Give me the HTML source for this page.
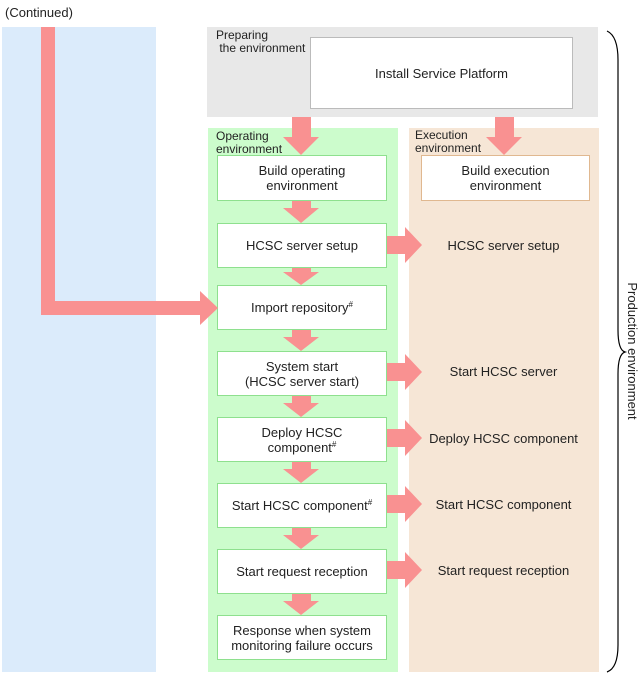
<!DOCTYPE html>
<html><head><style>
body{margin:0;width:641px;height:677px;position:relative;background:#fff;font-family:"Liberation Sans",sans-serif;color:#222;overflow:hidden}
.a{position:absolute}
.box{position:absolute;background:#fff;border:1.5px solid #8ee08e;box-sizing:border-box;display:flex;align-items:center;justify-content:center;text-align:center;font-size:13px;line-height:15px}
.t{position:absolute;font-size:13px;text-align:center;width:189px;left:409px}
.lbl{position:absolute;font-size:12px;line-height:13px}
sup{font-size:8px;vertical-align:5px;line-height:0}
</style></head><body>
<div class="a" style="left:5px;top:5px;font-size:13px">(Continued)</div>
<div class="a" style="left:2px;top:27px;width:154px;height:645px;background:#dbebfb"></div>
<div class="a" style="left:207px;top:27px;width:391px;height:90px;background:#e8e8e8"></div>
<div class="lbl" style="left:216px;top:29px">Preparing<br>&nbsp;the environment</div>
<div class="box" style="left:310px;top:37px;width:263px;height:72px;border-color:#bbb"><span>Install Service Platform</span></div>
<div class="a" style="left:208px;top:128px;width:190px;height:544px;background:#ccfccc"></div>
<div class="a" style="left:409px;top:128px;width:190px;height:544px;background:#f6e6d6"></div>
<div class="lbl" style="left:216px;top:130px">Operating<br>environment</div>
<div class="lbl" style="left:415px;top:129px">Execution<br>environment</div>
<div class="box" style="left:217px;top:155px;width:170px;height:46px"><span>Build operating<br>environment</span></div>
<div class="box" style="left:421px;top:155px;width:169px;height:46px;border-color:#e0b890"><span>Build execution<br>environment</span></div>
<div class="box" style="left:217px;top:223px;width:170px;height:45px"><span>HCSC server setup</span></div>
<div class="box" style="left:217px;top:285px;width:170px;height:45px"><span>Import repository<sup>#</sup></span></div>
<div class="box" style="left:217px;top:351px;width:170px;height:45px"><span>System start<br>(HCSC server start)</span></div>
<div class="box" style="left:217px;top:417px;width:170px;height:45px"><span>Deploy HCSC<br>component<sup>#</sup></span></div>
<div class="box" style="left:217px;top:483px;width:170px;height:45px"><span>Start HCSC component<sup>#</sup></span></div>
<div class="box" style="left:217px;top:549px;width:170px;height:45px"><span>Start request reception</span></div>
<div class="box" style="left:217px;top:615px;width:170px;height:45px"><span>Response when system<br>monitoring failure occurs</span></div>
<div class="t" style="top:238px">HCSC server setup</div>
<div class="t" style="top:364px">Start HCSC server</div>
<div class="t" style="top:431px">Deploy HCSC component</div>
<div class="t" style="top:497px">Start HCSC component</div>
<div class="t" style="top:563px">Start request reception</div>
<svg class="a" style="left:0;top:0" width="641" height="677">
<g fill="#f99191">
<path d="M41 27H55V301H200V291L218 308L200 325V315H41Z"/>
<path d="M292 117H311V137H319L301 155L283 137H292Z"/>
<path d="M495 117H514V137H522L504 155L486 137H495Z"/>
<path d="M292 201H311V208H319L301 223L283 208H292Z"/>
<path d="M292 268H311V272H319L301 285L283 272H292Z"/>
<path d="M292 330H311V337H319L301 351L283 337H292Z"/>
<path d="M292 396H311V403H319L301 417L283 403H292Z"/>
<path d="M292 462H311V469H319L301 483L283 469H292Z"/>
<path d="M292 528H311V535H319L301 549L283 535H292Z"/>
<path d="M292 594H311V601H319L301 615L283 601H292Z"/>
<path d="M387 236H405V227L422 245L405 263V254H387Z"/>
<path d="M387 363H405V354L422 372L405 390V381H387Z"/>
<path d="M387 429H405V420L422 438L405 456V447H387Z"/>
<path d="M387 495H405V486L422 504L405 522V513H387Z"/>
<path d="M387 561H405V552L422 570L405 588V579H387Z"/>
</g>
<path d="M607 31 Q618 36 618 60 V330 Q618 350 625 352 Q618 354 618 374 V645 Q618 668 607 672" fill="none" stroke="#000" stroke-width="1.2"/>
<text x="0" y="0" transform="translate(628,351) rotate(90)" text-anchor="middle" font-size="13" font-family="Liberation Sans,sans-serif" fill="#222">Production environment</text>
</svg>
</body></html>
